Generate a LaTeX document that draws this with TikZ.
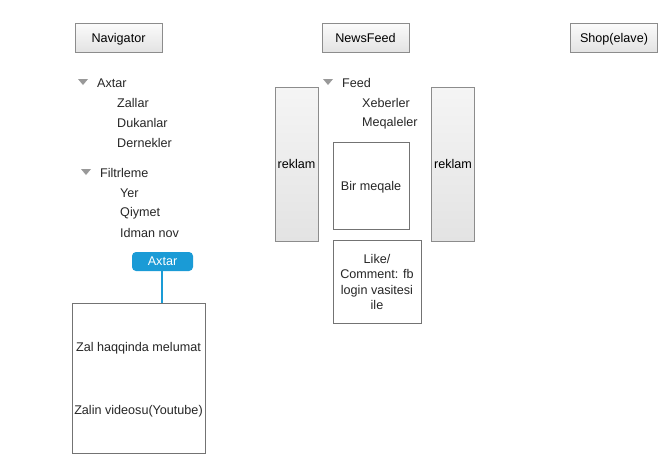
\documentclass[tikz,border=0pt]{standalone}
\usepackage{fontspec}
\setmainfont{Liberation Sans}
\definecolor{btnblue}{RGB}{26,155,214}
\begin{document}
\begin{tikzpicture}[x=1pt,y=-1pt,
		font=\fontsize{12.6}{14}\selectfont,
		tab/.style={draw=gray!90,top color=white!97!gray,bottom color=gray!22,minimum width=87pt,minimum height=29pt,inner sep=0pt,text depth=0pt},
		ad/.style={draw=gray!90,top color=gray!8,bottom color=gray!22,minimum width=43pt,minimum height=154pt,inner sep=0pt,text depth=0pt},
		frame/.style={draw=gray!110,fill=white,inner sep=0pt},
		item/.style={anchor=west,inner sep=0pt,text=black!85}]
	\useasboundingbox (0,0) rectangle (658,453);
	% top tabs
	\node[tab] (nav) at (118.5,37.5) {Navigator};
	\node[tab] (news) at (365.5,37.5) {NewsFeed};
	\node[tab] (shop) at (614,37.5) {Shop(elave)};
	% left menu
	\fill[gray!80] (78,79) -- (88,79) -- (83,85) -- cycle;
	\node[item] (axtar) at (97,83) {Axtar};
	\node[item] (zallar) at (117,103) {Zallar};
	\node[item] (dukan) at (117,123) {Dukanlar};
	\node[item] (dernek) at (117,143) {Dernekler};
	\fill[gray!80] (81,169) -- (91,169) -- (86,175) -- cycle;
	\node[item] (filtr) at (100,173) {Filtrleme};
	\node[item] (yer) at (120,193) {Yer};
	\node[item] (qiy) at (120,213) {Qiymet};
	\node[item] (idman) at (120,233) {Idman nov};
	\node[fill=btnblue,rounded corners=4pt,text=white,minimum width=61pt,minimum height=19pt,inner sep=0pt,text depth=0pt] (btn) at (162.5,261.5) {Axtar};
	\node[frame,minimum width=133pt,minimum height=150pt,anchor=north west] (zal) at (72,303) {};
	\draw[btnblue,line width=1.5pt] (btn.south -| 162,0) -- (zal.north -| 162,0);
	\node[inner sep=0pt,text=black!85] (info) at (138.5,348) {Zal haqqinda melumat};
	\node[inner sep=0pt,text=black!85] (video) at (138.5,411) {Zalin videosu(Youtube)};
	% news feed
	\node[ad] (adl) at (296.5,164) {reklam};
	\node[ad] (adr) at (453,164) {reklam};
	\fill[gray!80] (323,79) -- (333,79) -- (328,85) -- cycle;
	\node[item] (feed) at (342,83) {Feed};
	\node[item] (xeb) at (362,103) {Xeberler};
	\node[item] (meq) at (362,123) {Meqaleler};
	\node[frame,minimum width=76pt,minimum height=87pt,text=black!85,text depth=0pt] (art) at (371,185.5) {Bir meqale};
	\node[frame,minimum width=88pt,minimum height=83pt,align=center,text=black!85,font=\fontsize{12.6}{15.5}\selectfont] (like) at (377,282) {Like/\\Comment: fb\\login vasitesi\\ile};
\end{tikzpicture}
\end{document}
